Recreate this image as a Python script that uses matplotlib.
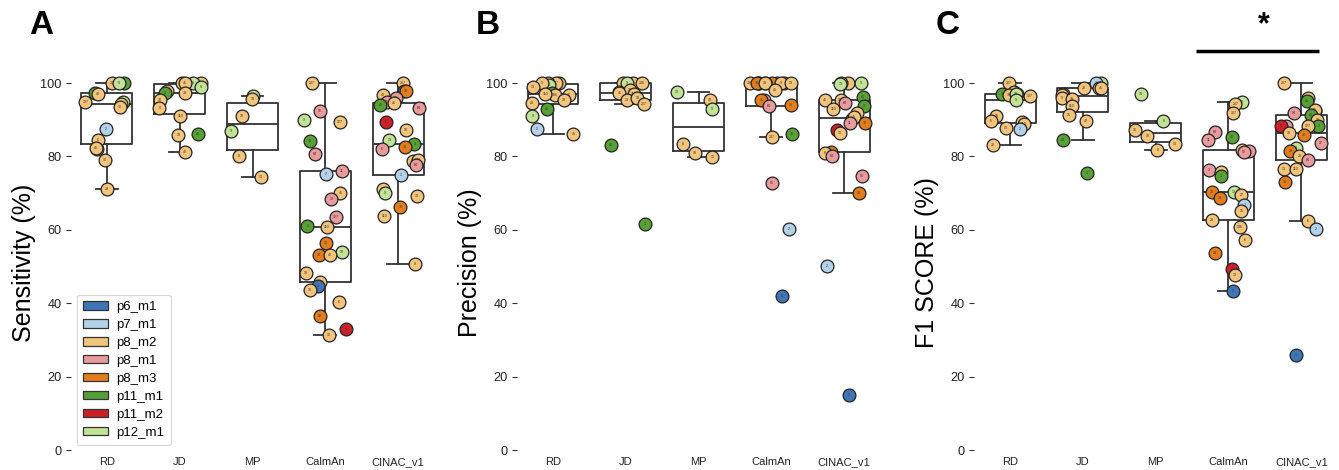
import numpy as np
import matplotlib
matplotlib.use("Agg")
import matplotlib.pyplot as plt
from matplotlib.patches import Patch

plt.rcParams['font.family'] = ['Liberation Sans', 'DejaVu Sans']

methods = ['RD', 'JD', 'MP', 'CalmAn', 'CINAC_v1']
fovs = ['p6_m1', 'p7_m1', 'p8_m2', 'p8_m1', 'p8_m3', 'p11_m1', 'p11_m2', 'p12_m1']
fov_colors = ['#3f74b5', '#b3d2ea', '#f3c47c', '#e99a9c', '#e27d1e', '#56a036', '#cc2027', '#c2e396']

# ---- Sensitivity (panel A) ----
sens_rd = [100, 100, 100, 97.3, 97.0, 94.8, 94.8, 94.3, 93.4, 87.5, 84.4, 81.9, 82.3, 79.0, 71.0]
sens_rd_fov = ['p8_m2', 'p11_m1', 'p12_m1', 'p11_m1', 'p8_m2', 'p12_m1', 'p8_m2', 'p8_m2', 'p8_m2',
               'p7_m1', 'p8_m2', 'p8_m2', 'p8_m2', 'p8_m2', 'p8_m2']
sens_rd_id = ['207', '45', '9', '3', '42', '18', '127', '19', '13', '2', '6', '110', '41', '13', '28']

sens_jd = [100, 100, 100, 100, 99.0, 97.9, 97.3, 97.3, 95.5, 93.3, 90.9, 85.7, 86.2, 81.2]
sens_jd_fov = ['p8_m2', 'p8_m2', 'p12_m1', 'p8_m2', 'p12_m1', 'p8_m2', 'p11_m1', 'p8_m2', 'p8_m2',
               'p8_m2', 'p8_m2', 'p8_m2', 'p11_m1', 'p8_m2']
sens_jd_id = ['206', '28', '8', '41', '9', '18', '3', '28', '18', '0', '110', '18', '45', '42']

sens_mp = [96.4, 95.7, 91.0, 86.8, 80.0, 74.4]
sens_mp_fov = ['p12_m1', 'p8_m2', 'p8_m2', 'p12_m1', 'p8_m2', 'p8_m2']
sens_mp_id = ['13', '19', '19', '9', '8', '13']

sens_calman = [100, 92.5, 90.0, 89.5, 84.3, 80.6, 76.0, 75.1, 70.1, 68.3, 63.5, 61.1, 60.8, 56.3, 54.0,
               53.1, 53.1, 48.3, 45.7, 44.7, 43.6, 40.3, 36.6, 33.0, 31.4]
sens_calman_fov = ['p8_m2', 'p8_m1', 'p12_m1', 'p8_m2', 'p11_m1', 'p8_m1', 'p8_m1', 'p7_m1', 'p8_m2',
                   'p8_m1', 'p8_m1', 'p11_m1', 'p8_m2', 'p8_m3', 'p12_m1', 'p8_m3', 'p8_m2', 'p8_m2',
                   'p8_m2', 'p6_m1', 'p8_m2', 'p8_m2', 'p8_m3', 'p11_m2', 'p8_m2']
sens_calman_id = ['207', '51', '9', '127', '45', '64', '11', '2', '41', '32', '127', '3', '110', '32', '18',
                  '33', '42', '19', '28', '1', '30', '6', '28', '4', '13']

sens_cinac = [100, 97.9, 97.7, 96.8, 95.9, 94.9, 94.5, 94.0, 93.1, 89.3, 87.1, 84.5, 83.3, 82.5, 81.9,
              78.7, 78.9, 77.7, 75.0, 71.0, 70.1, 69.2, 66.1, 63.8, 50.8]
sens_cinac_fov = ['p8_m2', 'p6_m1', 'p8_m3', 'p8_m2', 'p8_m1', 'p8_m1', 'p8_m2', 'p11_m1', 'p8_m1',
                  'p11_m2', 'p8_m2', 'p12_m1', 'p11_m1', 'p8_m3', 'p8_m1', 'p8_m2', 'p8_m2', 'p8_m1',
                  'p7_m1', 'p8_m2', 'p12_m1', 'p8_m2', 'p8_m3', 'p8_m2', 'p8_m2']
sens_cinac_id = ['207', '1', '19', '42', '18', '51', '41', '45', '64', '6', '18', '13', '3', '33', '6',
                 '64', '127', '64', '2', '28', '9', '13', '33', '110', '8']

# ---- Precision (panel B) ----
prec_rd = [100, 100, 100, 99.5, 100, 98.9, 96.8, 97.3, 96.7, 97.1, 95.5, 94.6, 92.8, 91.0, 87.6, 86.2]
prec_rd_fov = ['p8_m2', 'p8_m2', 'p8_m2', 'p12_m1', 'p8_m2', 'p8_m2', 'p8_m2', 'p11_m1', 'p8_m2',
               'p8_m2', 'p8_m2', 'p8_m2', 'p11_m1', 'p12_m1', 'p7_m1', 'p8_m2']
prec_rd_id = ['42', '127', '207', '18', '9', '13', '41', '3', '106', '110', '19', '28', '45', '9', '2', '15']

prec_jd = [100, 100, 100, 100, 97.6, 98.2, 96.9, 97.3, 95.5, 95.9, 94.4, 83.1, 61.5]
prec_jd_fov = ['p8_m2', 'p8_m2', 'p12_m1', 'p8_m2', 'p8_m2', 'p8_m2', 'p8_m2', 'p8_m2', 'p8_m2',
               'p8_m2', 'p8_m2', 'p11_m1', 'p11_m1']
prec_jd_id = ['42', '28', '9', '206', '127', '18', '110', '41', '13', '19', '207', '45', '1']

prec_mp = [97.6, 95.3, 92.8, 83.3, 81.0, 79.9]
prec_mp_fov = ['p12_m1', 'p8_m2', 'p12_m1', 'p8_m2', 'p8_m2', 'p8_m2']
prec_mp_id = ['13', '19', '9', '8', '19', '13']

prec_calman = [100, 100, 100, 100, 100, 100, 100, 100, 100, 100, 100, 98.2, 95.5, 95.5, 93.9, 93.7,
               86.2, 85.2, 72.7, 60.2, 41.9]
prec_calman_fov = ['p8_m2', 'p8_m2', 'p8_m3', 'p8_m3', 'p8_m2', 'p8_m2', 'p8_m2', 'p8_m2', 'p8_m3',
                   'p8_m2', 'p8_m2', 'p8_m2', 'p8_m1', 'p8_m3', 'p8_m3', 'p8_m1', 'p11_m1', 'p8_m2',
                   'p8_m1', 'p7_m1', 'p6_m1']
prec_calman_id = ['206', '28', '206', '32', '9', '18', '127', '110', '33', '19', '13', '41', '11', '31',
                  '32', '64', '45', '207', '51', '2', '1']

prec_cinac = [100, 100, 100, 99.6, 96.2, 95.5, 95.5, 94.6, 93.8, 92.9, 91.9, 90.3, 90.8, 89.1, 89.1,
              87.1, 86.4, 81.3, 81.0, 80.1, 74.7, 70.0, 50.1, 15.1]
prec_cinac_fov = ['p8_m2', 'p8_m2', 'p12_m1', 'p12_m1', 'p11_m1', 'p8_m2', 'p8_m2', 'p8_m1', 'p11_m1',
                  'p8_m2', 'p8_m2', 'p8_m1', 'p8_m2', 'p8_m1', 'p8_m3', 'p11_m2', 'p8_m2', 'p8_m3',
                  'p8_m2', 'p8_m1', 'p8_m1', 'p8_m3', 'p7_m1', 'p6_m1']
prec_cinac_id = ['6', '207', '9', '13', '45', '41', '106', '64', '3', '110', '28', '27', '41', '11', '32',
                 '6', '13', '33', '6', '64', '51', '28', '2', '1']

# ---- F1 score (panel C) ----
f1_rd = [100, 97.6, 97.1, 97.1, 96.4, 96.8, 97.1, 95.3, 91.0, 89.6, 87.8, 89.4, 88.7, 87.6, 83.1]
f1_rd_fov = ['p8_m2', 'p8_m2', 'p8_m2', 'p11_m1', 'p8_m2', 'p8_m2', 'p12_m1', 'p12_m1', 'p8_m2',
             'p8_m2', 'p8_m2', 'p8_m2', 'p8_m2', 'p7_m1', 'p8_m2']
f1_rd_id = ['207', '42', '41', '3', '127', '19', '18', '9', '18', '6', '13', '41', '110', '2', '28']

f1_jd = [100, 100, 98.7, 98.7, 98.7, 97.1, 96.8, 96.0, 95.7, 93.8, 91.4, 89.7, 84.6, 75.4]
f1_jd_fov = ['p12_m1', 'p7_m1', 'p8_m2', 'p8_m2', 'p8_m2', 'p8_m2', 'p8_m2', 'p8_m2', 'p8_m2',
             'p8_m2', 'p8_m2', 'p8_m2', 'p11_m1', 'p11_m1']
f1_jd_id = ['9', '2', '127', '28', '41', '207', '13', '9', '19', '110', '15', '42', '45', '1']

f1_mp = [97.1, 89.7, 87.1, 85.6, 83.5, 81.7]
f1_mp_fov = ['p12_m1', 'p12_m1', 'p8_m2', 'p8_m2', 'p8_m2', 'p8_m2']
f1_mp_id = ['10', '8', '16', '19', '13', '8']

f1_calman = [94.8, 94.4, 91.9, 86.7, 85.3, 84.4, 81.7, 81.5, 81.3, 76.3, 75.7, 74.7, 70.2, 70.2, 69.5,
             68.6, 66.8, 65.2, 62.7, 60.9, 57.3, 53.7, 49.4, 47.8, 43.3]
f1_calman_fov = ['p12_m1', 'p8_m2', 'p8_m2', 'p8_m1', 'p11_m1', 'p8_m1', 'p8_m2', 'p8_m1', 'p8_m1',
                 'p8_m1', 'p8_m2', 'p11_m1', 'p8_m3', 'p12_m1', 'p8_m2', 'p8_m3', 'p7_m1', 'p8_m2',
                 'p8_m2', 'p8_m2', 'p8_m2', 'p8_m3', 'p11_m2', 'p8_m2', 'p6_m1']
f1_calman_id = ['9', '207', '207', '64', '45', '11', '41', '51', '52', '3', '110', '1', '32', '13', '27',
                '33', '2', '15', '28', '106', '6', '28', '4', '13', '1']

f1_cinac = [100, 96.0, 95.1, 92.4, 92.6, 91.9, 91.2, 89.9, 88.3, 88.2, 88.3, 88.3, 86.4, 85.8, 83.7,
            82.4, 81.5, 80.1, 79.0, 76.6, 76.6, 72.9, 62.4, 60.2, 25.9]
f1_cinac_fov = ['p8_m2', 'p8_m2', 'p11_m1', 'p8_m1', 'p8_m2', 'p8_m1', 'p11_m1', 'p8_m2', 'p11_m1',
                'p8_m1', 'p11_m2', 'p8_m2', 'p8_m2', 'p8_m3', 'p8_m1', 'p12_m1', 'p8_m3', 'p8_m2',
                'p8_m1', 'p8_m2', 'p8_m2', 'p8_m3', 'p8_m2', 'p7_m1', 'p6_m1']
f1_cinac_id = ['207', '42', '45', '17', '51', '64', '41', '13', '3', '11', '6', '127', '19', '32', '27',
               '8', '28', '28', '64', '13', '110', '33', '6', '2', '1']

color_of = dict(zip(fovs, fov_colors))
rng = np.random.default_rng(7)   # strip jitter only


def draw_panel(ax, values, fov_lists, id_lists, ylabel):
    for i, (vals, fv, ids) in enumerate(zip(values, fov_lists, id_lists)):
        ax.boxplot([vals], positions=[i], widths=0.7, showfliers=False, whis=1.5,
                   capwidths=0.3,
                   boxprops=dict(color='#333333', lw=1.3),
                   whiskerprops=dict(color='#333333', lw=1.3),
                   capprops=dict(color='#333333', lw=1.3),
                   medianprops=dict(color='#333333', lw=1.3))
        jit = rng.uniform(-0.3, 0.3, len(vals))
        for k, (v, f, lab) in enumerate(zip(vals, fv, ids)):
            z = 3 + k * 0.02
            ax.scatter(i + jit[k], v, s=85, color=color_of[f], edgecolor='#222222',
                       linewidth=0.9, zorder=z)
            ax.text(i + jit[k], v, lab, fontsize=2.6, ha='center', va='center',
                    color='#333333', zorder=z + 0.01)
    ax.set_xlim(-0.5, 4.5)
    ax.set_ylim(-1, 103)
    ax.set_xticks(range(len(methods)))
    ax.set_xticklabels(methods)
    ax.set_yticks([0, 20, 40, 60, 80, 100])
    ax.tick_params(axis='x', length=0, labelsize=8, pad=2.5, labelcolor='#222222')
    ax.tick_params(axis='y', length=3.5, width=0.8, color='#333333', labelsize=9.2, pad=3,
                   labelcolor='#222222')
    for sp in ax.spines.values():
        sp.set_visible(False)
    ax.set_ylabel(ylabel, fontsize=18, labelpad=3)


fig = plt.figure(figsize=(13.39, 4.70), dpi=100)
ax_a = fig.add_axes([0.0527, 0.0347, 0.2718, 0.8121])
ax_b = fig.add_axes([0.3858, 0.0347, 0.2718, 0.8121])
ax_c = fig.add_axes([0.7272, 0.0347, 0.2718, 0.8121])

draw_panel(ax_a, [sens_rd, sens_jd, sens_mp, sens_calman, sens_cinac],
           [sens_rd_fov, sens_jd_fov, sens_mp_fov, sens_calman_fov, sens_cinac_fov],
           [sens_rd_id, sens_jd_id, sens_mp_id, sens_calman_id, sens_cinac_id], 'Sensitivity (%)')
draw_panel(ax_b, [prec_rd, prec_jd, prec_mp, prec_calman, prec_cinac],
           [prec_rd_fov, prec_jd_fov, prec_mp_fov, prec_calman_fov, prec_cinac_fov],
           [prec_rd_id, prec_jd_id, prec_mp_id, prec_calman_id, prec_cinac_id], 'Precision (%)')
draw_panel(ax_c, [f1_rd, f1_jd, f1_mp, f1_calman, f1_cinac],
           [f1_rd_fov, f1_jd_fov, f1_mp_fov, f1_calman_fov, f1_cinac_fov],
           [f1_rd_id, f1_jd_id, f1_mp_id, f1_calman_id, f1_cinac_id], 'F1 SCORE (%)')

# legend only on panel A
handles = [Patch(facecolor=c, edgecolor='#333333', linewidth=0.9, label=f)
           for f, c in zip(fovs, fov_colors)]
leg = ax_a.legend(handles=handles, loc='lower left', bbox_to_anchor=(0.017, 0.022),
                  borderaxespad=0, fontsize=9.5, frameon=True, fancybox=True,
                  edgecolor='#cccccc', handlelength=1.9, handleheight=0.6,
                  labelspacing=0.45, borderpad=0.5, handletextpad=0.6)
leg.get_frame().set_linewidth(0.8)

# significance between CalmAn and CINAC_v1
ax_c.plot([2.55, 4.25], [108.6, 108.6], color='black', lw=2.5, clip_on=False,
          solid_capstyle='butt')
ax_c.text(3.49, 115.8, '*', ha='center', va='center', fontsize=22, fontweight='bold',
          clip_on=False)

for x, letter in [(0.022, 'A'), (0.355, 'B'), (0.699, 'C')]:
    fig.text(x, 1 - 10 / 470, letter, fontsize=24, fontweight='bold', va='top', ha='left')

fig.savefig('out.png', dpi=100)
